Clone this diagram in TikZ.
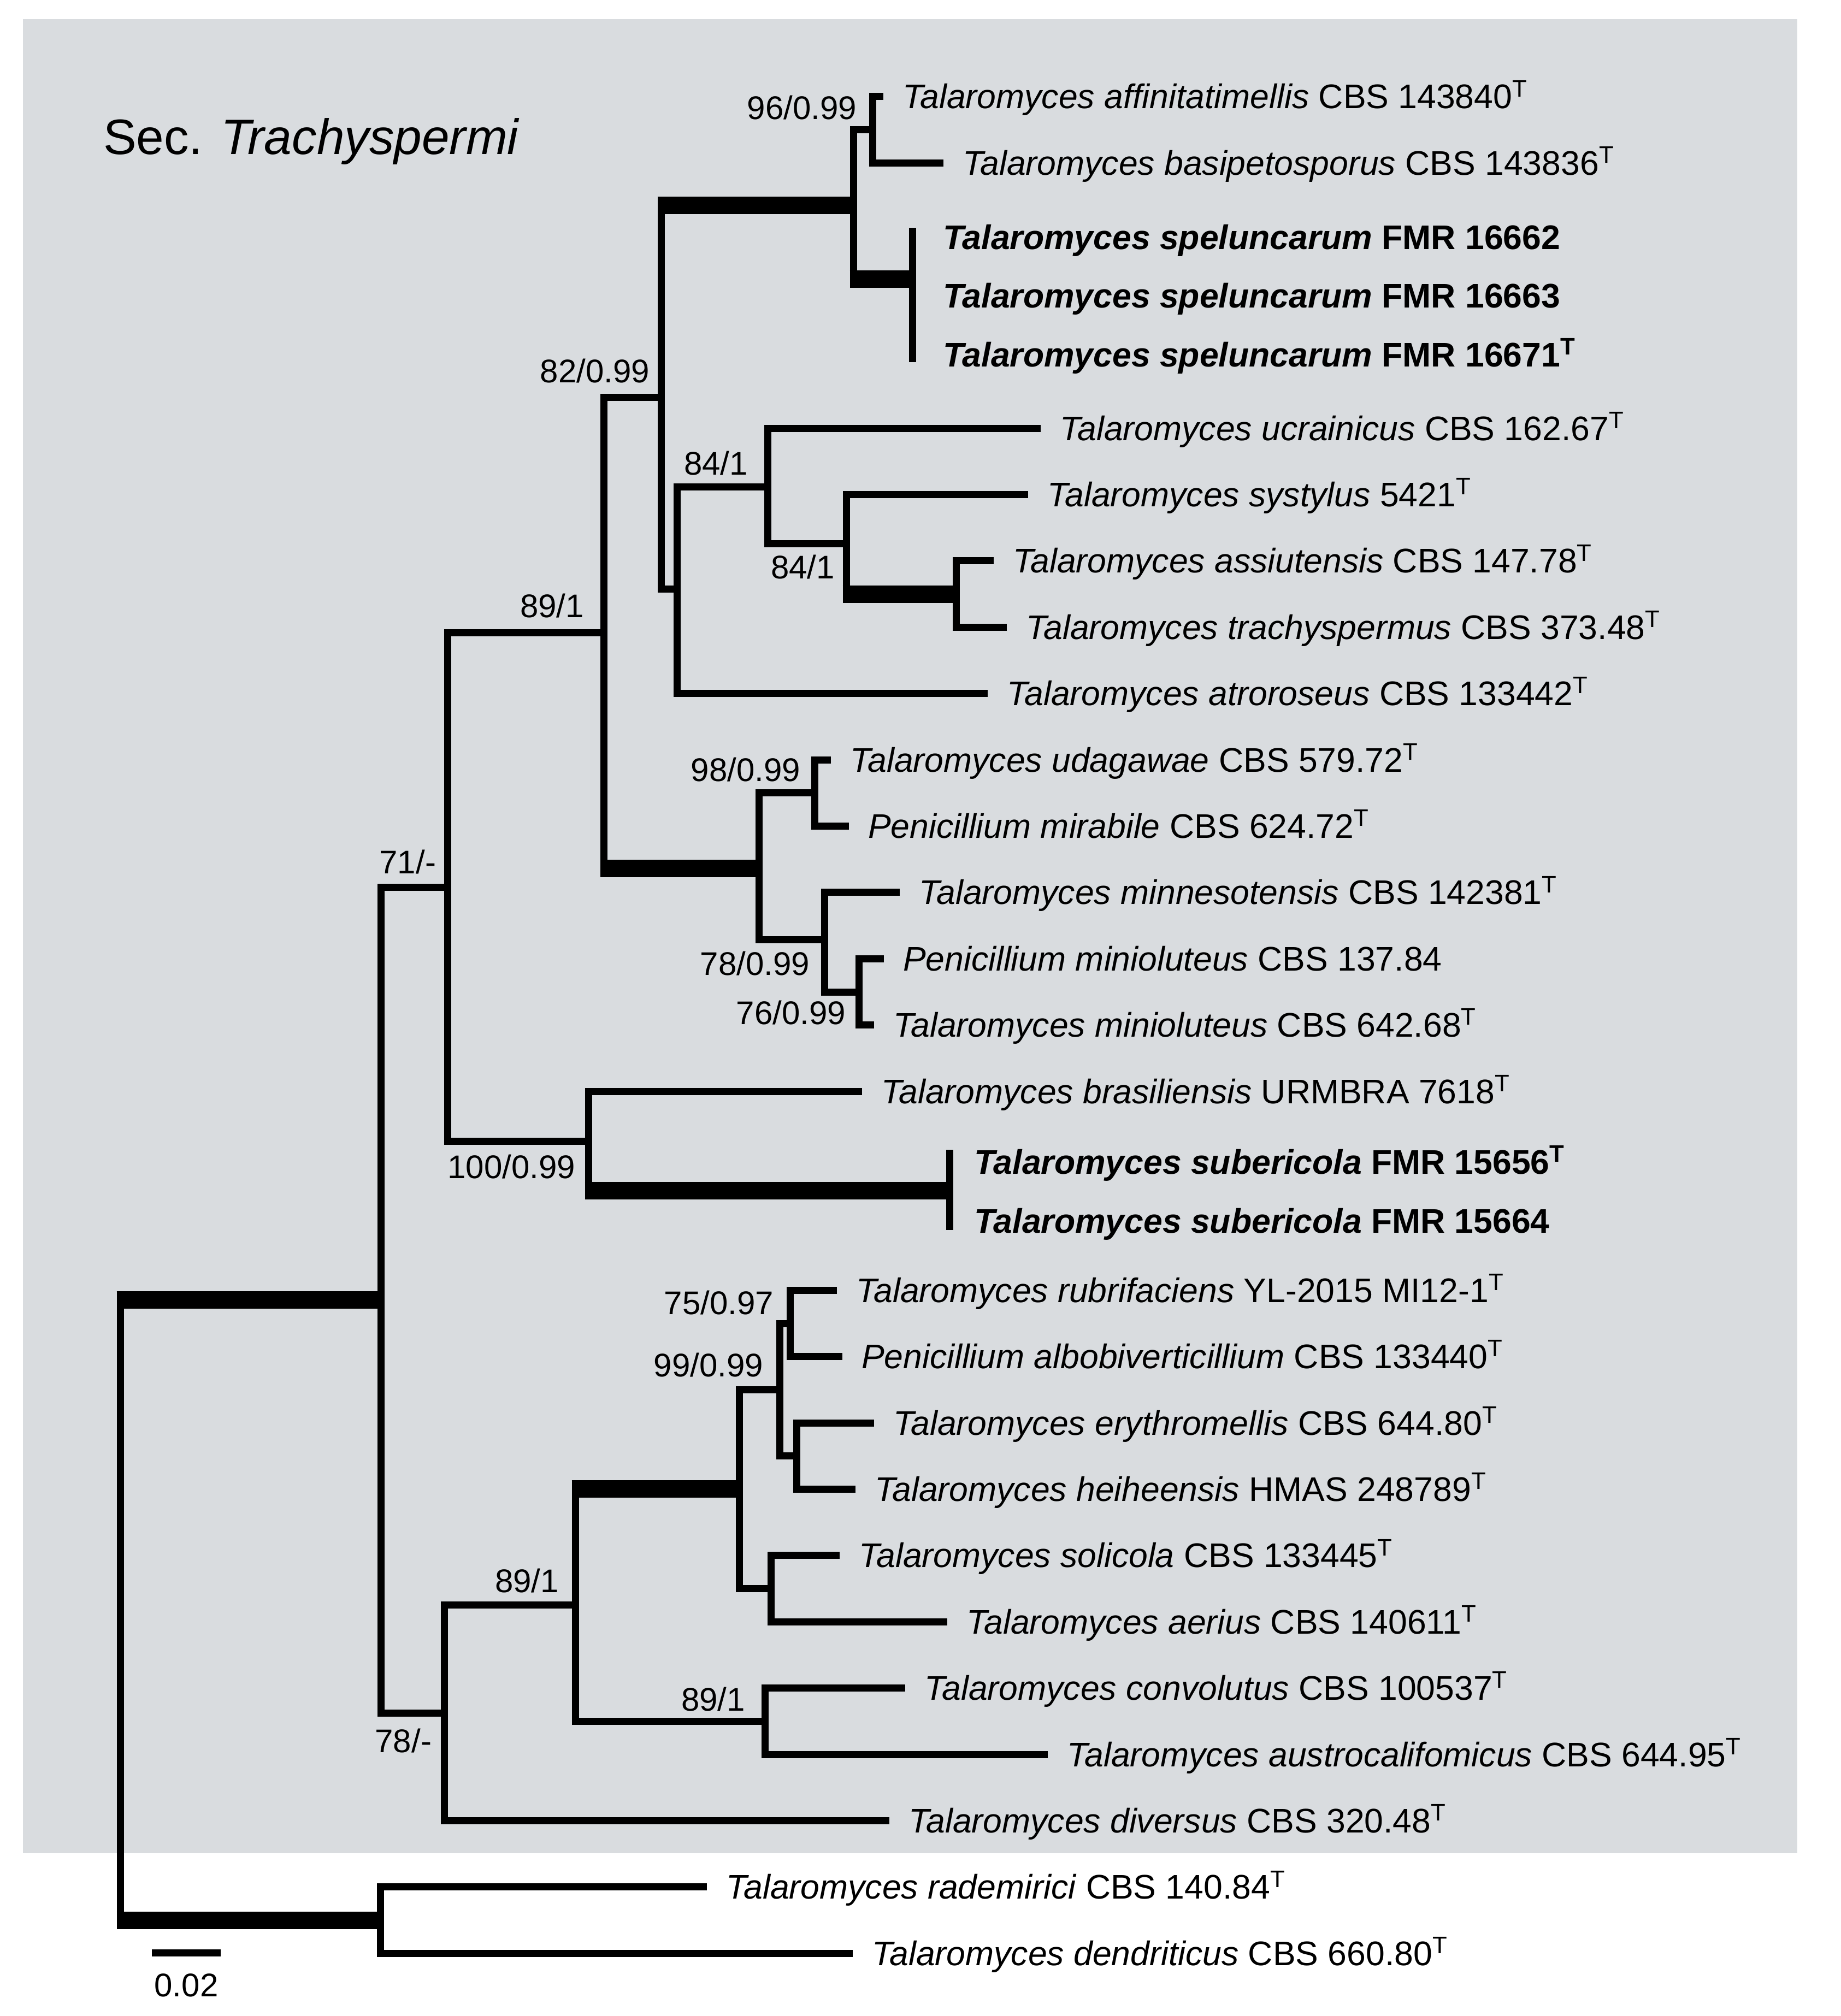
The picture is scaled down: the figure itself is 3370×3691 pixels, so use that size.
\documentclass[tikz,border=0pt]{standalone}
\usepackage{fontspec}
\setmainfont{Liberation Sans}
\usetikzlibrary{calc}
\definecolor{bggray}{RGB}{217,220,223}
\newcommand\thinedge[2]{\draw[br] (#1) |- (#2);}
\newcommand\thickedge[2]{\draw[br] (#1) -- (#1 |- #2); \draw[thk] ($(#1 |- #2)+(-6.5,0)$) -- (#2);}
\begin{document}
\begin{tikzpicture}[x=0.2pt,y=-0.2pt,
  br/.style={line width=2.6pt},
  thk/.style={line width=6.4pt},
  taxon/.style={anchor=base west, inner sep=0pt, font=\fontsize{12.5}{14}\selectfont},
  supval/.style={anchor=base east, inner sep=0pt, font=\fontsize{12}{14}\selectfont}]
\useasboundingbox (0,0) rectangle (3370,3691);
\fill[bggray] (42,35) rectangle (3290,3393);

% leaf tips
\coordinate (L0) at (1617,177);
\coordinate (L1) at (1727,298.4);
\coordinate (L2) at (1670,434);
\coordinate (L3) at (1670,541.5);
\coordinate (L4) at (1670,649);
\coordinate (L5) at (1905,784);
\coordinate (L6) at (1882,905.4);
\coordinate (L7) at (1819,1026.8);
\coordinate (L8) at (1843,1148.2);
\coordinate (L9) at (1808,1269.6);
\coordinate (L10) at (1521,1391);
\coordinate (L11) at (1554,1512.4);
\coordinate (L12) at (1647,1633.8);
\coordinate (L13) at (1618,1755.2);
\coordinate (L14) at (1600,1876.6);
\coordinate (L15) at (1578,1998);
\coordinate (L16) at (1738,2127);
\coordinate (L17) at (1738,2235);
\coordinate (L18) at (1532,2362.2);
\coordinate (L19) at (1542,2483.6);
\coordinate (L20) at (1600,2605);
\coordinate (L21) at (1566,2726.4);
\coordinate (L22) at (1537,2847.8);
\coordinate (L23) at (1734,2969.2);
\coordinate (L24) at (1657,3090.6);
\coordinate (L25) at (1918,3212);
\coordinate (L26) at (1628,3333.4);
\coordinate (L27) at (1294,3454.8);
\coordinate (L28) at (1561,3576.2);

% internal nodes
\coordinate (N96) at (1597,237.7);
\coordinate (NS) at (1670,511);
\coordinate (XA) at (1562,376);
\coordinate (NAT) at (1750,1087.5);
\coordinate (N84b) at (1549,995);
\coordinate (N84a) at (1405,891);
\coordinate (NB) at (1239,1078);
\coordinate (N82) at (1210,727);
\coordinate (N98) at (1491,1451.7);
\coordinate (N76) at (1572,1816);
\coordinate (N78) at (1509,1720);
\coordinate (NM) at (1389,1590);
\coordinate (N89a) at (1105,1158.5);
\coordinate (NSub) at (1738,2180);
\coordinate (N100) at (1077,2089);
\coordinate (N71) at (819,1624);
\coordinate (N75) at (1446,2423);
\coordinate (N620) at (1458,2665.7);
\coordinate (N99) at (1427,2544);
\coordinate (N598) at (1411,2908.5);
\coordinate (N574) at (1353,2726);
\coordinate (N89c) at (1400,3151.3);
\coordinate (N89b) at (1053,2938.7);
\coordinate (N78m) at (813,3136);
\coordinate (I) at (697,2380);
\coordinate (O) at (696,3515.5);
\coordinate (R) at (220,2947.8);

% edges
\thickedge{R}{I}
\thickedge{R}{O}
\thinedge{I}{N71}
\thinedge{I}{N78m}
\thinedge{N71}{N89a}
\thinedge{N71}{N100}
\thinedge{N89a}{N82}
\thickedge{N89a}{NM}
\thickedge{N82}{XA}
\thinedge{N82}{NB}
\thinedge{XA}{N96}
\thickedge{XA}{NS}
\thinedge{N96}{L0}
\thinedge{N96}{L1}
\draw[br] ($(L2)+(0,-17)$) -- ($(L4)+(0,14)$);
\thinedge{NB}{N84a}
\thinedge{NB}{L9}
\thinedge{N84a}{L5}
\thinedge{N84a}{N84b}
\thinedge{N84b}{L6}
\thickedge{N84b}{NAT}
\thinedge{NAT}{L7}
\thinedge{NAT}{L8}
\thinedge{NM}{N98}
\thinedge{NM}{N78}
\thinedge{N98}{L10}
\thinedge{N98}{L11}
\thinedge{N78}{L12}
\thinedge{N78}{N76}
\thinedge{N76}{L13}
\thinedge{N76}{L14}
\thinedge{N100}{L15}
\thickedge{N100}{NSub}
\draw[br] ($(L16)+(0,-22)$) -- ($(L17)+(0,17)$);
\thinedge{N78m}{N89b}
\thinedge{N78m}{L26}
\thickedge{N89b}{N574}
\thinedge{N89b}{N89c}
\thinedge{N574}{N99}
\thinedge{N574}{N598}
\thinedge{N99}{N75}
\thinedge{N99}{N620}
\thinedge{N75}{L18}
\thinedge{N75}{L19}
\thinedge{N620}{L20}
\thinedge{N620}{L21}
\thinedge{N598}{L22}
\thinedge{N598}{L23}
\thinedge{N89c}{L24}
\thinedge{N89c}{L25}
\thinedge{O}{L27}
\thinedge{O}{L28}

% taxa
\node[taxon] (T0) at ($(L0)+(34,22)$) {\textit{Talaromyces affinitatimellis} CBS 143840\textsuperscript{T}};
\node[taxon] (T1) at ($(L1)+(34,22)$) {\textit{Talaromyces basipetosporus} CBS 143836\textsuperscript{T}};
\node[taxon] (T2) at ($(L2)+(55,22)$) {\bfseries\textit{Talaromyces speluncarum} FMR 16662};
\node[taxon] (T3) at ($(L3)+(55,22)$) {\bfseries\textit{Talaromyces speluncarum} FMR 16663};
\node[taxon] (T4) at ($(L4)+(55,22)$) {\bfseries\textit{Talaromyces speluncarum} FMR 16671\textsuperscript{T}};
\node[taxon] (T5) at ($(L5)+(34,22)$) {\textit{Talaromyces ucrainicus} CBS 162.67\textsuperscript{T}};
\node[taxon] (T6) at ($(L6)+(34,22)$) {\textit{Talaromyces systylus} 5421\textsuperscript{T}};
\node[taxon] (T7) at ($(L7)+(34,22)$) {\textit{Talaromyces assiutensis} CBS 147.78\textsuperscript{T}};
\node[taxon] (T8) at ($(L8)+(34,22)$) {\textit{Talaromyces trachyspermus} CBS 373.48\textsuperscript{T}};
\node[taxon] (T9) at ($(L9)+(34,22)$) {\textit{Talaromyces atroroseus} CBS 133442\textsuperscript{T}};
\node[taxon] (T10) at ($(L10)+(34,22)$) {\textit{Talaromyces udagawae} CBS 579.72\textsuperscript{T}};
\node[taxon] (T11) at ($(L11)+(34,22)$) {\textit{Penicillium mirabile} CBS 624.72\textsuperscript{T}};
\node[taxon] (T12) at ($(L12)+(34,22)$) {\textit{Talaromyces minnesotensis} CBS 142381\textsuperscript{T}};
\node[taxon] (T13) at ($(L13)+(34,22)$) {\textit{Penicillium minioluteus} CBS 137.84};
\node[taxon] (T14) at ($(L14)+(34,22)$) {\textit{Talaromyces minioluteus} CBS 642.68\textsuperscript{T}};
\node[taxon] (T15) at ($(L15)+(34,22)$) {\textit{Talaromyces brasiliensis} URMBRA 7618\textsuperscript{T}};
\node[taxon] (T16) at ($(L16)+(44,22)$) {\bfseries\textit{Talaromyces subericola} FMR 15656\textsuperscript{T}};
\node[taxon] (T17) at ($(L17)+(44,22)$) {\bfseries\textit{Talaromyces subericola} FMR 15664};
\node[taxon] (T18) at ($(L18)+(34,22)$) {\textit{Talaromyces rubrifaciens} YL-2015 MI12-1\textsuperscript{T}};
\node[taxon] (T19) at ($(L19)+(34,22)$) {\textit{Penicillium albobiverticillium} CBS 133440\textsuperscript{T}};
\node[taxon] (T20) at ($(L20)+(34,22)$) {\textit{Talaromyces erythromellis} CBS 644.80\textsuperscript{T}};
\node[taxon] (T21) at ($(L21)+(34,22)$) {\textit{Talaromyces heiheensis} HMAS 248789\textsuperscript{T}};
\node[taxon] (T22) at ($(L22)+(34,22)$) {\textit{Talaromyces solicola} CBS 133445\textsuperscript{T}};
\node[taxon] (T23) at ($(L23)+(34,22)$) {\textit{Talaromyces aerius} CBS 140611\textsuperscript{T}};
\node[taxon] (T24) at ($(L24)+(34,22)$) {\textit{Talaromyces convolutus} CBS 100537\textsuperscript{T}};
\node[taxon] (T25) at ($(L25)+(34,22)$) {\textit{Talaromyces austrocalifomicus} CBS 644.95\textsuperscript{T}};
\node[taxon] (T26) at ($(L26)+(34,22)$) {\textit{Talaromyces diversus} CBS 320.48\textsuperscript{T}};
\node[taxon] (T27) at ($(L27)+(34,22)$) {\textit{Talaromyces rademirici} CBS 140.84\textsuperscript{T}};
\node[taxon] (T28) at ($(L28)+(34,22)$) {\textit{Talaromyces dendriticus} CBS 660.80\textsuperscript{T}};

% support values
\node[supval] (s96) at (1569,219) {96/0.99};
\node[supval] (s82) at (1190,700) {82/0.99};
\node[supval] (s84a) at (1370,869) {84/1};
\node[supval] (s84b) at (1529,1059) {84/1};
\node[supval] (s89a) at (1070,1130) {89/1};
\node[supval] (s98) at (1466,1430) {98/0.99};
\node[supval] (s78) at (1483,1785) {78/0.99};
\node[supval] (s76) at (1549,1875) {76/0.99};
\node[supval] (s71) at (799,1599) {71/-};
\node[supval] (s100) at (1054,2157) {100/0.99};
\node[supval] (s75) at (1417,2406) {75/0.97};
\node[supval] (s99) at (1398,2520) {99/0.99};
\node[supval] (s89b) at (1024,2915) {89/1};
\node[supval] (s89c) at (1365,3132) {89/1};
\node[supval] (s78m) at (791,3208) {78/-};

% title
\node[anchor=base west, inner sep=0pt, font=\fontsize{18.2}{21}\selectfont] (title) at (188,283) {Sec. \textit{Trachyspermi}};

% scale bar
\coordinate (sb1) at (278,3575);
\coordinate (sb2) at (404,3575);
\draw[br] (sb1) -- (sb2);
\node[anchor=base, inner sep=0pt, font=\fontsize{12}{14}\selectfont] (sbl) at (341,3655) {0.02};
\end{tikzpicture}
\end{document}
